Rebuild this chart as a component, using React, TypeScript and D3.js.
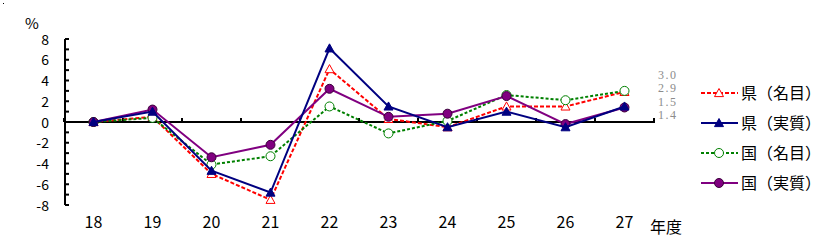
import React from "react";
import * as d3 from "d3";

const years = ["18", "19", "20", "21", "22", "23", "24", "25", "26", "27"];
const prefNominal = [0, 0.5, -5.0, -7.5, 5.1, 0.3, -0.5, 1.5, 1.5, 2.9];
const prefReal = [0, 1.0, -4.7, -6.8, 7.1, 1.5, -0.5, 1.0, -0.5, 1.5];
const natNominal = [0, 0.4, -4.1, -3.3, 1.5, -1.1, 0.1, 2.6, 2.1, 3.0];
const natReal = [0, 1.2, -3.4, -2.2, 3.2, 0.5, 0.8, 2.5, -0.2, 1.4];
const yTicks = [8, 6, 4, 2, 0, -2, -4, -6, -8];
const endLabels = ["3.0", "2.9", "1.5", "1.4"];
const seriesNames = ["県（名目）", "県（実質）", "国（名目）", "国（実質）"];

const W = 832;
const H = 240;
const gothic = "'Noto Sans CJK JP', 'DejaVu Sans', sans-serif";
const mincho = "'Liberation Serif', 'DejaVu Serif', serif";

type Series = {
  name: string;
  values: number[];
  color: string;
  dash: string | null;
  marker: "triOpen" | "triFill" | "circOpen" | "circFill";
};

const series: Series[] = [
  { name: seriesNames[0], values: prefNominal, color: "#FF0000", dash: "4,2", marker: "triOpen" },
  { name: seriesNames[2], values: natNominal, color: "#008000", dash: "3,2", marker: "circOpen" },
  { name: seriesNames[3], values: natReal, color: "#800080", dash: null, marker: "circFill" },
  { name: seriesNames[1], values: prefReal, color: "#000080", dash: null, marker: "triFill" },
];

function Marker({ x, y, kind, color }: { x: number; y: number; kind: Series["marker"]; color: string }) {
  if (kind === "triOpen" || kind === "triFill") {
    const s = 4.5;
    const pts = `${x},${y - s} ${x + s},${y + s * 0.8} ${x - s},${y + s * 0.8}`;
    return (
      <polygon
        points={pts}
        fill={kind === "triFill" ? color : "#fff"}
        stroke={color}
        strokeWidth={1}
      />
    );
  }
  return (
    <circle
      cx={x}
      cy={y}
      r={4.5}
      fill={kind === "circFill" ? color : "#fff"}
      stroke={kind === "circFill" ? "#3a003a" : color}
      strokeWidth={1}
    />
  );
}

export default function App() {
  const x = d3.scaleBand<string>().domain(years).range([64, 654]);
  const y = d3.scaleLinear().domain([-8, 8]).range([205, 39]);
  const cx = (d: string) => (x(d) as number) + x.bandwidth() / 2;
  const line = d3
    .line<number>()
    .x((_, i) => cx(years[i]))
    .y((v) => y(v));

  const minorTicks = d3.range(-8, 9, 1);
  const boundaries = years.map((d) => x(d) as number).concat([654]);

  const legendOrder = [0, 3, 1, 2];
  const legendY = [93, 123, 153, 183];

  return (
    <svg width={W} height={H} style={{ position: "absolute", left: 0, top: 0 }}>
      <rect x={0} y={0} width={W} height={H} fill="#fff" />
      <rect x={3} y={3} width={1} height={1} fill="#000" />
      {/* % label */}
      <text x={25} y={29} fontFamily={gothic} fontSize={15}>%</text>
      {/* y axis */}
      <line x1={65} x2={65} y1={y(8)} y2={y(-8)} stroke="#000" strokeWidth={2} />
      {minorTicks.map((t) => (
        <line key={t} x1={65} x2={69} y1={y(t)} y2={y(t)} stroke="#000" strokeWidth={2} />
      ))}
      {yTicks.map((t) => (
        <text
          key={t}
          x={49}
          y={y(t) + 5.5}
          textAnchor="end"
          fontFamily={gothic}
          fontSize={14}
        >
          {t}
        </text>
      ))}
      {/* zero line */}
      <line x1={64} x2={655} y1={y(0)} y2={y(0)} stroke="#000" strokeWidth={2} />
      {boundaries.map((b, i) => (
        <rect key={i} x={b - 1} y={y(0) - 4} width={2} height={4} fill="#000" />
      ))}
      {/* x labels */}
      {years.map((d) => (
        <text key={d} x={cx(d)} y={228} textAnchor="middle" fontFamily={gothic} fontSize={16}>
          {d}
        </text>
      ))}
      <text x={650} y={233} fontFamily={gothic} fontSize={16}>年度</text>
      {/* series */}
      {series.map((s) => (
        <g key={s.name}>
          <path
            d={line(s.values) as string}
            fill="none"
            stroke={s.color}
            strokeWidth={2}
            strokeDasharray={s.dash ?? undefined}
          />
          {s.values.map((v, i) => (
            <Marker key={i} x={cx(years[i])} y={y(v)} kind={s.marker} color={s.color} />
          ))}
        </g>
      ))}
      {/* end value labels */}
      {endLabels.map((l, i) => (
        <text
          key={l + i}
          x={658}
          y={78.5 + i * 13.5}
          fontFamily={mincho}
          fontSize={12}
          fill="#8c8c8c"
          letterSpacing={1.5}
        >
          {l}
        </text>
      ))}
      {/* legend */}
      {legendOrder.map((si, row) => {
        const s = series[si];
        const ly = legendY[row];
        return (
          <g key={s.name}>
            <line
              x1={701}
              x2={738}
              y1={ly}
              y2={ly}
              stroke={s.color}
              strokeWidth={2}
              strokeDasharray={s.dash ?? undefined}
            />
            <Marker x={719} y={ly} kind={s.marker} color={s.color} />
            <text x={741} y={ly + 6} fontFamily={gothic} fontSize={16}>
              {s.name}
            </text>
          </g>
        );
      })}
    </svg>
  );
}
